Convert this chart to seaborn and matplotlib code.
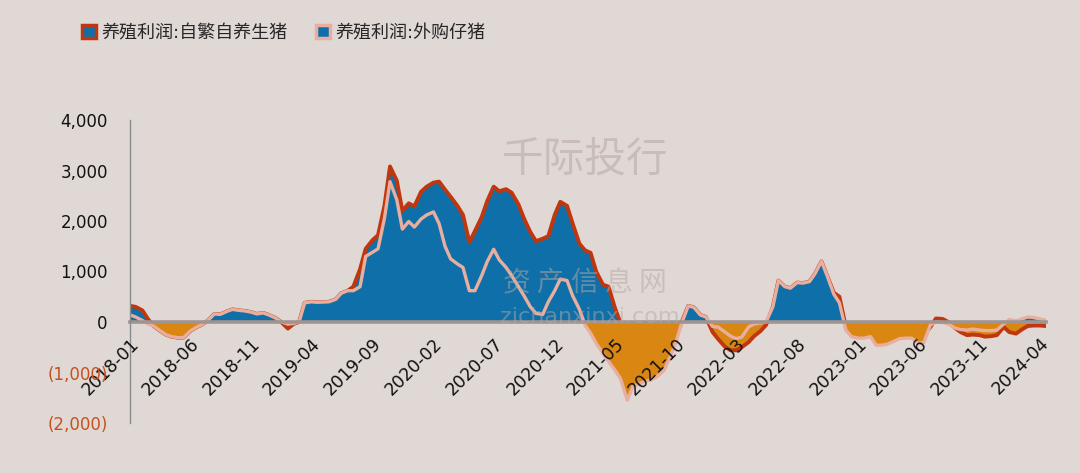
import matplotlib
matplotlib.use("Agg")
import matplotlib.pyplot as plt
import matplotlib.ticker as mticker
from matplotlib.patches import Patch
import seaborn as sns
import pandas as pd
import numpy as np

# semi-monthly points, 2018-01-01 .. 2024-04-15
dates = pd.date_range("2018-01-01", periods=152, freq="SMS")

# 养殖利润:自繁自养生猪 (元/头)
profit_self = [
    320, 300, 230, 60, -80, -160, -250, -290, -310, -310, -180, -110,
    -50, 30, 160, 150, 210, 250, 230, 220, 195, 160, 180, 140,
    80, 0, -130, -40, 0, 380, 400, 390, 395, 400, 450, 570,
    620, 700, 1050, 1450, 1620, 1720, 2300, 3080, 2800, 2200, 2350, 2290,
    2580, 2680, 2760, 2780, 2620, 2480, 2300, 2120, 1580, 1800, 2080, 2400,
    2680, 2590, 2630, 2560, 2330, 2050, 1780, 1600, 1650, 1700, 2120, 2380,
    2300, 1950, 1550, 1420, 1370, 1000, 740, 700, 280, -20, -700, -1000,
    -1100, -1080, -1050, -980, -860, -620, -300, -10, 320, 290, 140, 100,
    -200, -340, -490, -560, -560, -500, -400, -280, -180, -60, 300, 820,
    700, 670, 780, 770, 800, 960, 1200, 920, 580, 500, -100, -150,
    -200, -220, -200, -300, -320, -300, -260, -220, -220, -220, -280, -260,
    -100, 70, 60, 0, -120, -200, -260, -250, -260, -290, -280, -260,
    -100, -200, -230, -150, -80, -70, -70, -80,
]

# 养殖利润:外购仔猪 (元/头)
profit_bought = [
    140, 100, 30, -40, -80, -160, -250, -290, -310, -310, -180, -110,
    -50, 30, 160, 150, 210, 250, 230, 220, 195, 160, 180, 140,
    80, 0, -40, -30, 0, 380, 400, 390, 395, 400, 450, 570,
    620, 620, 700, 1300, 1380, 1450, 2050, 2780, 2420, 1840, 1990, 1880,
    2040, 2120, 2180, 1950, 1500, 1250, 1150, 1080, 620, 620, 920, 1200,
    1440, 1230, 1080, 920, 700, 520, 300, 170, 150, 400, 620, 850,
    820, 520, 250, -60, -220, -420, -620, -780, -950, -1120, -1550, -1280,
    -1220, -1180, -1140, -1080, -960, -720, -400, -30, 320, 290, 140, 100,
    -90, -100, -200, -280, -330, -300, -100, -40, -20, 0, 300, 820,
    700, 670, 780, 770, 800, 960, 1200, 920, 550, 380, -160, -290,
    -320, -320, -290, -460, -460, -440, -380, -330, -320, -320, -420, -400,
    -60, 0, -10, -40, -120, -150, -160, -140, -160, -170, -170, -160,
    -40, 50, 20, 60, 100, 90, 60, 40,
]

series_names = ["养殖利润:自繁自养生猪", "养殖利润:外购仔猪"]
tick_dates = pd.date_range("2018-01-01", "2024-04-01", freq="5MS")
tick_labels = [d.strftime("%Y-%m") for d in tick_dates]

bg = "#E0D8D5"
blue = "#0F6FA8"
orange = "#D98712"
red = "#C0370F"
pink = "#E8AFA0"

sns.set_style("white", {"axes.facecolor": bg, "figure.facecolor": bg})
plt.rcParams["font.family"] = ["DejaVu Sans", "Noto Sans CJK SC"]

fig = plt.figure(figsize=(10.8, 4.73), dpi=100)
ax = fig.add_axes([130 / 1080, 50 / 473, 916 / 1080, 303 / 473])
ax.set_axisbelow(False)  # tick labels drawn over the areas

x = dates.to_pydatetime()
# red series first, pink series over it
for vals, edge, lw, z in [(profit_self, red, 2.8, 1.0), (profit_bought, pink, 2.4, 1.8)]:
    v = np.array(vals, dtype=float)
    ax.fill_between(x, v, 0, where=v >= 0, interpolate=True, color=blue, lw=0, zorder=z)
    ax.fill_between(x, v, 0, where=v <= 0, interpolate=True, color=orange, lw=0, zorder=z)
    sns.lineplot(x=x, y=v, color=edge, linewidth=lw, ax=ax, sort=False, legend=False,
                 zorder=z + 0.3, solid_joinstyle="round")

# spines first: moving the bottom spine resets the ticks
ax.spines["top"].set_visible(False)
ax.spines["right"].set_visible(False)
ax.spines["left"].set_color("#8C8C8C")
ax.spines["left"].set_linewidth(1)
ax.spines["bottom"].set_position(("data", 0))
ax.spines["bottom"].set_color("#A09491")
ax.spines["bottom"].set_linewidth(2.6)
ax.spines["bottom"].set_zorder(2.4)
ax.set_xlabel("")
ax.set_ylabel("")

ax.set_ylim(-2000, 4000)
ax.set_xlim(dates[0], pd.Timestamp("2024-04-16"))
ax.set_yticks([-2000, -1000, 0, 1000, 2000, 3000, 4000])
ax.yaxis.set_major_formatter(mticker.FuncFormatter(
    lambda v, p: f"{v:,.0f}" if v >= 0 else f"({-v:,.0f})"))
ax.tick_params(axis="y", direction="out", length=4, width=1, color="#8C8C8C",
               pad=12, labelsize=12, labelcolor="#111111")
for lab, val in zip(ax.get_yticklabels(), ax.get_yticks()):
    if val < 0:
        lab.set_color("#C8501E")

ax.set_xticks(tick_dates.to_pydatetime(), labels=tick_labels)
ax.tick_params(axis="x", length=0, pad=9, labelsize=12.5, labelcolor="#111111",
               labelrotation=45)
plt.setp(ax.get_xticklabels(), ha="right", rotation_mode="anchor")

# watermark
wm = "#B5A8A4"
fig.text(585 / 1080, 1 - 160 / 473, "千际投行", fontsize=30, color=wm, alpha=0.55,
         ha="center", va="center", family=["Noto Sans CJK SC"])
fig.text(585 / 1080, 1 - 283 / 473, "资 产 信 息 网", fontsize=20, color=wm, alpha=0.5,
         ha="center", va="center", family=["Noto Sans CJK SC"])
fig.text(590 / 1080, 1 - 317 / 473, "zichanxinxi.com", fontsize=16, color=wm, alpha=0.5,
         ha="center", va="center")

handles = [Patch(facecolor=blue, edgecolor=red, linewidth=2.5),
           Patch(facecolor=blue, edgecolor=pink, linewidth=2.5)]
fig.legend(handles, series_names, loc="center left", bbox_to_anchor=(82 / 1080, 1 - 33 / 473),
           ncol=2, frameon=False, fontsize=13, handlelength=0.75, handleheight=0.75,
           handletextpad=0.3, columnspacing=1.6, borderpad=0, borderaxespad=0)

fig.savefig("out.png", dpi=100, facecolor=bg)
